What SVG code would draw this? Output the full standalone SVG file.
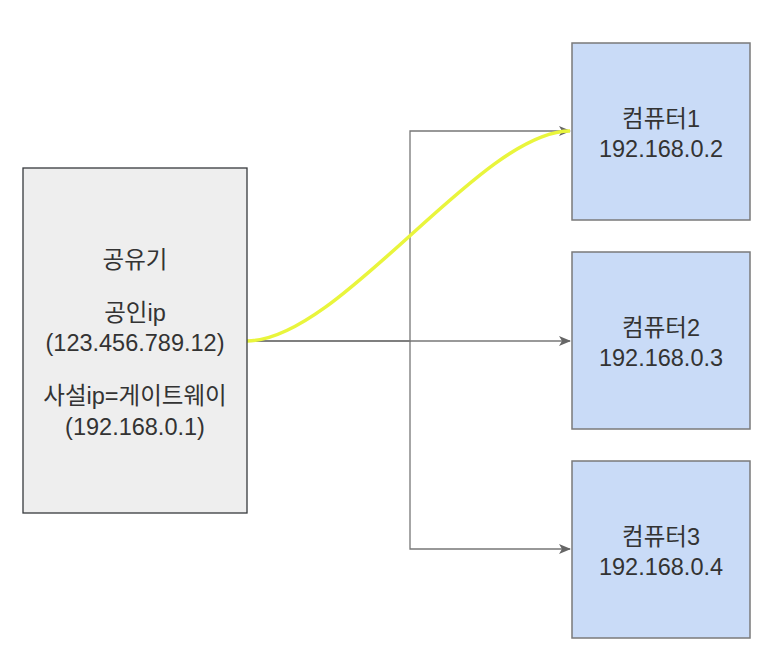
<svg xmlns="http://www.w3.org/2000/svg" width="780" height="662" viewBox="0 0 780 662">
<style>
.t{font-family:"Liberation Sans","Noto Sans CJK KR",Arial,sans-serif;font-size:23.5px;fill:#333333;text-anchor:middle}
.pc{fill:#c9dbf7;stroke:#7a7a7a;stroke-width:1.5}
.ed{fill:none;stroke:#777777;stroke-width:1.3}
</style>
<defs>
<marker id="ah" viewBox="0 0 12 10" refX="11" refY="5" markerWidth="12" markerHeight="10" markerUnits="userSpaceOnUse" orient="auto">
<path d="M0,0 L12,5 L0,10 L3,5 Z" fill="#666666"/>
</marker>
</defs>
<rect width="780" height="662" fill="#ffffff"/>
<g id="connectors">
<path class="ed" d="M247,341 H410 V131 H570" marker-end="url(#ah)"/>
<path class="ed" d="M247,341 H570" marker-end="url(#ah)"/>
<path class="ed" d="M410,341 V549 H570" marker-end="url(#ah)"/>
<path d="M247,341 C340,341 480,131 570,131" fill="none" stroke="#e9f53c" stroke-width="3.5"/>
</g>
<g id="router">
<rect x="23" y="168" width="224" height="345" fill="#eeeeee" stroke="#36393d" stroke-width="1.3"/>
<text class="t" x="135" y="268">공유기</text>
<text class="t" x="135" y="321">공인ip</text>
<text class="t" x="135" y="351">(123.456.789.12)</text>
<text class="t" x="135" y="404">사설ip=게이트웨이</text>
<text class="t" x="135" y="435">(192.168.0.1)</text>
</g>
<g id="pc1">
<rect class="pc" x="572" y="43" width="178" height="177"/>
<text class="t" x="661" y="127">컴퓨터1</text>
<text class="t" x="661" y="157">192.168.0.2</text>
</g>
<g id="pc2">
<rect class="pc" x="572" y="252" width="178" height="177"/>
<text class="t" x="661" y="336">컴퓨터2</text>
<text class="t" x="661" y="366">192.168.0.3</text>
</g>
<g id="pc3">
<rect class="pc" x="572" y="461" width="178" height="177"/>
<text class="t" x="661" y="545">컴퓨터3</text>
<text class="t" x="661" y="575">192.168.0.4</text>
</g>
</svg>
